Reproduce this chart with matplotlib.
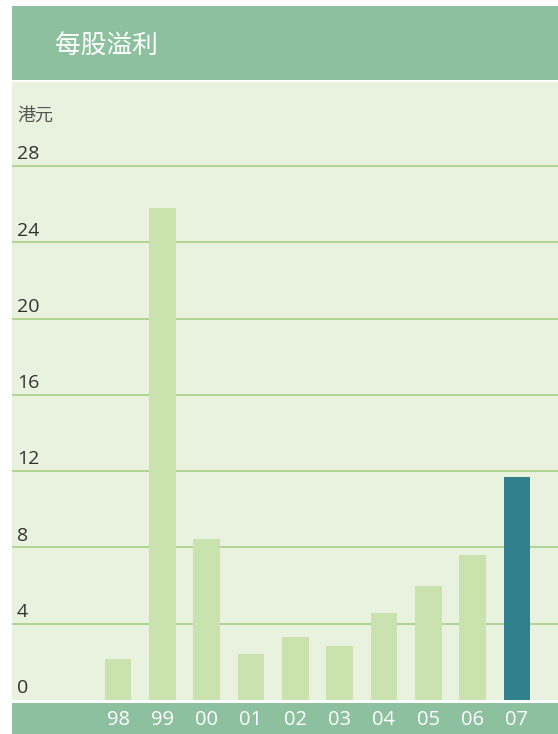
import matplotlib.pyplot as plt
from matplotlib.patches import Rectangle
from matplotlib.transforms import blended_transform_factory

# data
years = ['98', '99', '00', '01', '02', '03', '04', '05', '06', '07']
eps = [2.15, 25.8, 8.45, 2.4, 3.3, 2.85, 4.55, 6.0, 7.6, 11.7]
yticks = [0, 4, 8, 12, 16, 20, 24, 28]
title = '每股溢利'
unit = '港元'

HEAD = '#8dc09f'
PANEL = '#e9f2df'
BAR = '#c9e2ae'
BAR_HI = '#327f8e'
GRID = '#a9d18b'

W, H = 558, 734
fig = plt.figure(figsize=(W / 100, H / 100), dpi=100)
fig.patch.set_facecolor('white')

cjk = ['Noto Sans CJK TC', 'DejaVu Sans']
num = ['Open Sans', 'DejaVu Sans']

# header band and bottom band
fig.add_artist(Rectangle((12 / W, 1 - 80 / H), 546 / W, 74 / H,
                         transform=fig.transFigure, color=HEAD, lw=0, zorder=-1))
fig.add_artist(Rectangle((12 / W, 0), 546 / W, 31 / H,
                         transform=fig.transFigure, color=HEAD, lw=0, zorder=-1))
fig.text(55 / W, 1 - 46 / H, title, family=cjk, fontsize=18.5, color='white',
         va='center', ha='left')

ax = fig.add_axes([12 / W, 1 - 700 / H, 546 / W, (700 - 82) / H])
ax.set_facecolor(PANEL)
x = list(range(len(years)))
colors = [BAR] * (len(years) - 1) + [BAR_HI]
ax.bar(x, eps, width=0.6, color=colors, zorder=3)
ax.set_xlim((12 - 118) / 44.33, (558 - 118) / 44.33)
ax.set_ylim(0, (700 - 82) / 19.07)
for s in ax.spines.values():
    s.set_visible(False)
ax.set_xticks([])
ax.set_yticks([])
for v in yticks[1:]:
    ax.axhline(v, color=GRID, lw=1.3, zorder=1)

tr = blended_transform_factory(ax.transAxes, ax.transData)
for v in yticks:
    ax.annotate(str(v), (5 / 546, v), xycoords=tr, xytext=(0, 2),
                textcoords='offset points', family=num, fontsize=14,
                color='#333333', va='bottom', ha='left')
fig.text(17 / W, 1 - 116 / H, unit, family=cjk, fontsize=13,
         color='#555555', va='center', ha='left')

trx = blended_transform_factory(ax.transData, fig.transFigure)
for i, yr in enumerate(years):
    ax.text(i, 1 - 720 / H, yr, transform=trx, family=num, fontsize=14.5,
            color='white', ha='center', va='center', clip_on=False)

fig.savefig('out.png', dpi=100)
